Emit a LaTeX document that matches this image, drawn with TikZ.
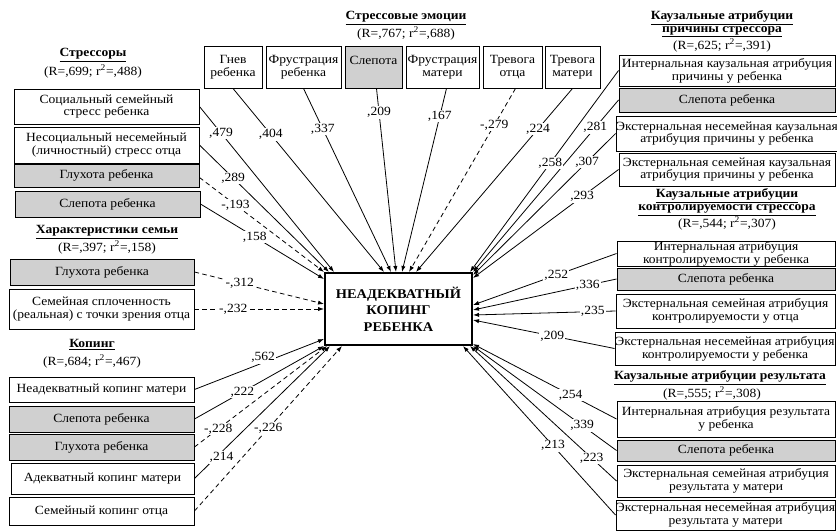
\documentclass[tikz,border=0pt]{standalone}
\usepackage{fontspec}
\setmainfont{Liberation Serif}[FakeStretch=1.08]
\usetikzlibrary{calc,arrows.meta}
\pgfdeclarelayer{bg}
\pgfsetlayers{bg,main}
\definecolor{boxgray}{RGB}{208,208,208}
\newcommand\bxfont{\fontsize{9.4}{9.6}\selectfont}
\newcommand\corefont{\fontsize{10}{12.4}\selectfont\bfseries}
% box from corner (x1,y1) to (x2,y2), pixel-like units, y downwards
\newcommand\mkbox[7]{%
  \pgfmathsetmacro\bw{(#5-#3)*0.75}%
  \pgfmathsetmacro\bh{(#6-#4)*0.75}%
  \node[#2, minimum width=\bw pt, minimum height=\bh pt] (#1) at ({(#3+#5)/2},{(#4+#6)/2}) {#7};%
}
% path coefficient: line on the back layer, its value on top
\newcommand\cnx[7]{%
  \begin{pgfonlayer}{bg}\draw[conn,#1] (#4) -- (#5);\end{pgfonlayer}%
  \path (#4) -- (#5) node[coef,pos=#6,#2] (#3) {#7};%
}
\tikzset{
  box/.style={draw, line width=0.7pt, fill=white, align=center, inner sep=0pt, font=\bxfont},
  gbox/.style={box, fill=boxgray},
  core/.style={draw, line width=1.5pt, fill=white, align=center, inner sep=0pt, font=\corefont},
  conn/.style={line width=0.6pt, -{Latex[length=4.5pt,width=3.2pt]}},
  dsh/.style={dash pattern=on 3.5pt off 2.5pt},
  coef/.style={fill=white, inner sep=0.8pt, font=\bxfont},
  ttl/.style={font=\bxfont\bfseries, inner sep=0pt, align=center},
  sub/.style={font=\bxfont, inner sep=0pt},
}
\begin{document}
\begin{tikzpicture}[x=0.75pt,y=-0.75pt]
\useasboundingbox (0,0) rectangle (837,531);

% ---------- group titles ----------
\node[ttl] (tstr) at (93,55) {\underline{Стрессоры}};
\node[sub] (sstr) at (93,71) {(R=,699; r\textsuperscript{2}=,488)};
\node[ttl] (temo) at (406,18) {\underline{Стрессовые эмоции}};
\node[sub] (semo) at (406,33) {(R=,767; r\textsuperscript{2}=,688)};
\node[ttl] (tcau) at (722,24) {\underline{Каузальные атрибуции}\\\underline{причины стрессора}};
\node[sub] (scau) at (722,45) {(R=,625; r\textsuperscript{2}=,391)};
\node[ttl] (tfam) at (107,232) {\underline{Характеристики семьи}};
\node[sub] (sfam) at (107,247) {(R=,397; r\textsuperscript{2}=,158)};
\node[ttl] (tcop) at (92,345) {\underline{Копинг}};
\node[sub] (scop) at (92,361) {(R=,684; r\textsuperscript{2}=,467)};
\node[ttl] (tcon) at (727,202) {\underline{Каузальные атрибуции}\\\underline{контролируемости стрессора}};
\node[sub] (scon) at (727,223) {(R=,544; r\textsuperscript{2}=,307)};
\node[ttl] (tres) at (720,378) {\underline{Каузальные атрибуции результата}};
\node[sub] (sres) at (712,393) {(R=,555; r\textsuperscript{2}=,308)};

% ---------- central variable ----------
\mkbox{cb}{core}{325}{273}{472}{345}{НЕАДЕКВАТНЫЙ\\КОПИНГ\\РЕБЕНКА}

% ---------- stressors ----------
\mkbox{soc}{box}{14}{89}{199}{124}{Социальный семейный\\стресс ребенка}
\mkbox{nes}{box}{14}{127}{199}{163}{Несоциальный несемейный\\(личностный) стресс отца}
\mkbox{gl1}{gbox}{14}{164}{199}{187}{Глухота ребенка}
\mkbox{sl1}{gbox}{15}{191}{200}{217}{Слепота ребенка}

% ---------- family ----------
\mkbox{gl2}{gbox}{10}{259}{194}{285}{Глухота ребенка}
\mkbox{spl}{box}{9}{289}{194}{329}{Семейная сплоченность\\(реальная) с точки зрения отца}

% ---------- coping ----------
\mkbox{nkm}{box}{9}{377}{194}{402}{Неадекватный копинг матери}
\mkbox{sl2}{gbox}{9}{406}{194}{432}{Слепота ребенка}
\mkbox{gl3}{gbox}{9}{434}{194}{460}{Глухота ребенка}
\mkbox{akm}{box}{11}{463}{194}{494}{Адекватный копинг матери}
\mkbox{sko}{box}{9}{497}{194}{525}{Семейный копинг отца}

% ---------- stress emotions ----------
\mkbox{gnv}{box}{204}{46}{262}{88}{Гнев\\ребенка}
\mkbox{frr}{box}{266}{46}{341}{88}{Фрустрация\\ребенка}
\mkbox{slp}{gbox}{345}{46}{402}{88}{Слепота\\\mbox{}}
\mkbox{frm}{box}{406}{46}{479}{88}{Фрустрация\\матери}
\mkbox{tro}{box}{483}{46}{542}{88}{Тревога\\отца}
\mkbox{trm}{box}{545}{46}{600}{88}{Тревога\\матери}

% ---------- causal attributions of the stressor ----------
\mkbox{ikp}{box}{619}{55}{835}{86}{Интернальная каузальная атрибуция\\причины у ребенка}
\mkbox{sl3}{gbox}{619}{88}{835}{112}{Слепота ребенка}
\mkbox{enk}{box}{619}{116}{835}{151}{Экстернальная несемейная каузальная\\атрибуция причины у ребенка}
\mkbox{esk}{box}{619}{153}{835}{186}{Экстернальная семейная каузальная\\атрибуция причины у ребенка}

% ---------- controllability ----------
\mkbox{ika}{box}{617}{241}{835}{266}{Интернальная атрибуция\\контролируемости у ребенка}
\mkbox{sl4}{gbox}{617}{268}{835}{290}{Слепота ребенка}
\mkbox{esa}{box}{616}{294}{835}{328}{Экстернальная семейная атрибуция\\контролируемости у отца}
\mkbox{ena}{box}{615}{332}{835}{365}{Экстернальная несемейная атрибуция\\контролируемости у ребенка}

% ---------- result ----------
\mkbox{irr}{box}{617}{401}{835}{437}{Интернальная атрибуция результата\\у ребенка}
\mkbox{sl5}{gbox}{617}{440}{835}{461}{Слепота ребенка}
\mkbox{esr}{box}{617}{465}{835}{497}{Экстернальная семейная атрибуция\\результата у матери}
\mkbox{enr}{box}{616}{500}{835}{530}{Экстернальная несемейная атрибуция\\результата у матери}

% ---------- paths: stressors ----------
\cnx{}{}{c479}{soc.east}{$(cb.north west)+(10,0)$}{0.16}{,479}
\cnx{}{}{c289}{nes.east}{$(cb.north west)+(5,0)$}{0.26}{,289}
\cnx{dsh}{}{c193}{$(gl1.east)+(0,2)$}{cb.north west}{0.29}{-,193}
\cnx{}{}{c158}{sl1.east}{$(cb.north west)+(0,7)$}{0.44}{,158}

% ---------- paths: family ----------
\cnx{dsh}{}{c312}{gl2.east}{$(cb.west)+(0,-5)$}{0.35}{-,312}
\cnx{dsh}{}{c232}{spl.east}{cb.west}{0.3}{-,232}

% ---------- paths: coping ----------
\cnx{}{yshift=4pt}{c562}{nkm.east}{$(cb.south west)+(0,-7)$}{0.53}{,562}
\cnx{}{}{c222}{sl2.east}{cb.south west}{0.37}{,222}
\cnx{dsh}{}{c228}{gl3.east}{$(cb.south west)+(3,0)$}{0.18}{-,228}
\cnx{}{yshift=-4pt}{c214}{akm.east}{$(cb.south west)+(6,0)$}{0.2}{,214}
\cnx{dsh}{}{c226}{sko.east}{$(cb.south west)+(18,0)$}{0.5}{-,226}

% ---------- paths: stress emotions ----------
\cnx{}{}{c404}{gnv.south}{$(cb.north west)+(60,0)$}{0.25}{,404}
\cnx{}{}{c337}{frr.south}{$(cb.north west)+(67,0)$}{0.22}{,337}
\cnx{}{}{c209a}{$(slp.south)+(3,0)$}{$(cb.north west)+(72,0)$}{0.13}{,209}
\cnx{}{}{c167}{$(frm.south)+(4,0)$}{$(cb.north west)+(78,0)$}{0.15}{,167}
\cnx{dsh}{}{c279}{$(tro.south)+(3,0)$}{$(cb.north west)+(85,0)$}{0.2}{-,279}
\cnx{}{}{c224}{trm.south}{$(cb.north west)+(92,0)$}{0.22}{,224}

% ---------- paths: causal attributions ----------
\cnx{}{}{c258}{ikp.west}{$(cb.north east)+(-3,0)$}{0.46}{,258}
\cnx{}{}{c281}{sl3.west}{cb.north east}{0.16}{,281}
\cnx{}{}{c307}{enk.west}{$(cb.north east)+(0,3)$}{0.2}{,307}
\cnx{}{}{c293}{esk.west}{$(cb.north east)+(0,6)$}{0.25}{,293}

% ---------- paths: controllability ----------
\cnx{}{}{c252}{ika.west}{$(cb.east)+(0,-4)$}{0.42}{,252}
\cnx{}{}{c336}{sl4.west}{$(cb.east)+(0,1)$}{0.2}{,336}
\cnx{}{}{c235}{esa.west}{$(cb.east)+(0,6)$}{0.16}{,235}
\cnx{}{}{c209b}{ena.west}{$(cb.east)+(0,11)$}{0.44}{,209}

% ---------- paths: result ----------
\cnx{}{}{c254}{irr.west}{$(cb.south east)+(0,-2)$}{0.32}{,254}
\cnx{}{}{c339}{sl5.west}{cb.south east}{0.24}{,339}
\cnx{}{}{c223}{esr.west}{$(cb.south east)+(-3,0)$}{0.17}{,223}
\cnx{}{}{c213}{enr.west}{$(cb.south east)+(-10,0)$}{0.41}{,213}
\end{tikzpicture}
\end{document}
